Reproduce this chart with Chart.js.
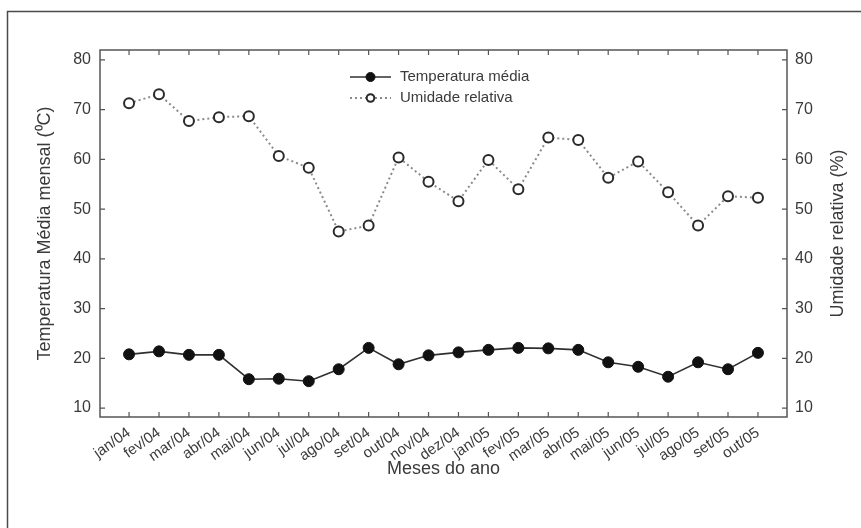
<!DOCTYPE html>
<html>
<head>
<meta charset="utf-8">
<script src="https://cdn.jsdelivr.net/npm/chart.js@4"></script>
<style>
  html, body { margin: 0; padding: 0; background: #ffffff; }
  #wrap { position: relative; width: 861px; height: 528px; }
  canvas { display: block; }
</style>
</head>
<body>
<div id="wrap"><canvas id="c" width="861" height="528"></canvas></div>
<script>
const months = ["jan/04","fev/04","mar/04","abr/04","mai/04","jun/04","jul/04","ago/04","set/04","out/04","nov/04","dez/04",
                "jan/05","fev/05","mar/05","abr/05","mai/05","jun/05","jul/05","ago/05","set/05","out/05"];
const temperatura = [20.8,21.4,20.7,20.7,15.8,15.9,15.4,17.8,22.1,18.8,20.6,21.2,21.7,22.1,22.0,21.7,19.2,18.3,16.3,19.2,17.8,21.1];
const umidade = [71.3,73.1,67.7,68.5,68.7,60.7,58.3,45.5,46.7,60.4,55.5,51.6,59.9,54.0,64.4,63.9,56.3,59.6,53.4,46.7,52.6,52.3];
const yTicks = [10,20,30,40,50,60,70,80];
const seriesNames = ["Temperatura média","Umidade relativa"];
const axisTitles = { left: "Temperatura Média mensal (\u2070C)", right: "Umidade relativa (%)", bottom: "Meses do ano" };

const FONT = "'Liberation Sans', Arial, sans-serif";
const TXT = "#3a3a3a";
const AX = "#555555";

const decor = {
  id: "decor",
  beforeDraw(chart) {
    const ctx = chart.ctx;
    ctx.save();
    ctx.strokeStyle = "#4a4a4a";
    ctx.lineWidth = 1.5;
    ctx.beginPath();
    ctx.moveTo(7.5, 528);
    ctx.lineTo(7.5, 11.5);
    ctx.lineTo(861, 11.5);
    ctx.stroke();
    ctx.restore();
  },
  afterDraw(chart) {
    const ctx = chart.ctx;
    const a = chart.chartArea;
    const sx = chart.scales.x, yl = chart.scales.y, yr = chart.scales.y2;
    ctx.save();
    ctx.strokeStyle = AX;
    ctx.lineWidth = 1.5;
    ctx.strokeRect(a.left, a.top, a.right - a.left, a.bottom - a.top);
    ctx.lineWidth = 1.2;
    ctx.beginPath();
    const L = 5;
    yl.ticks.forEach((t) => {
      const p = yl.getPixelForValue(t.value);
      ctx.moveTo(a.left, p); ctx.lineTo(a.left + L, p);
    });
    yr.ticks.forEach((t) => {
      const p = yr.getPixelForValue(t.value);
      ctx.moveTo(a.right, p); ctx.lineTo(a.right - L, p);
    });
    sx.ticks.forEach((t) => {
      const p = sx.getPixelForValue(t.value);
      ctx.moveTo(p, a.bottom); ctx.lineTo(p, a.bottom - L);
      ctx.moveTo(p, a.top); ctx.lineTo(p, a.top + L);
    });
    ctx.stroke();

    // right axis title, reading bottom-to-top like the left one
    ctx.save();
    ctx.translate(838, (a.top + a.bottom) / 2);
    ctx.rotate(-Math.PI / 2);
    ctx.fillStyle = TXT;
    ctx.font = "18px " + FONT;
    ctx.textAlign = "center";
    ctx.textBaseline = "middle";
    ctx.fillText(axisTitles.right, 0, 0);
    ctx.restore();

    // legend
    const ds = chart.data.datasets;
    const lx0 = 350, lx1 = 391, tx = 400;
    const rows = [77, 98];
    ds.forEach((d, i) => {
      const y = rows[i];
      ctx.save();
      ctx.strokeStyle = d.borderColor;
      ctx.lineWidth = d.borderWidth;
      ctx.setLineDash(d.borderDash || []);
      ctx.beginPath();
      ctx.moveTo(lx0, y); ctx.lineTo(lx1, y);
      ctx.stroke();
      ctx.setLineDash([]);
      ctx.beginPath();
      ctx.arc((lx0 + lx1) / 2, y, i === 0 ? 4.5 : 3.8, 0, Math.PI * 2);
      ctx.fillStyle = d.pointBackgroundColor;
      ctx.fill();
      ctx.lineWidth = d.pointBorderWidth;
      ctx.strokeStyle = d.pointBorderColor;
      ctx.stroke();
      ctx.restore();
      ctx.fillStyle = TXT;
      ctx.font = "15px " + FONT;
      ctx.textBaseline = "middle";
      ctx.textAlign = "left";
      ctx.fillText(d.label, tx, y);
    });
    ctx.restore();
  }
};

new Chart(document.getElementById("c"), {
  type: "line",
  data: {
    datasets: [
      {
        label: seriesNames[0],
        data: months.map((m, i) => ({ x: i, y: temperatura[i] })),
        yAxisID: "y",
        borderColor: "#303030",
        borderWidth: 1.6,
        pointRadius: 5.5,
        pointBackgroundColor: "#111111",
        pointBorderColor: "#111111",
        pointBorderWidth: 1,
        tension: 0
      },
      {
        label: seriesNames[1],
        data: months.map((m, i) => ({ x: i, y: umidade[i] })),
        yAxisID: "y2",
        borderColor: "#8a8a8a",
        borderWidth: 2,
        borderDash: [2, 3],
        pointRadius: 5,
        pointBackgroundColor: "#ffffff",
        pointBorderColor: "#2a2a2a",
        pointBorderWidth: 2,
        tension: 0
      }
    ]
  },
  options: {
    responsive: false,
    animation: false,
    layout: { padding: { top: 50, left: 0, right: 0, bottom: 0 } },
    plugins: { legend: { display: false }, tooltip: { enabled: false } },
    scales: {
      x: {
        type: "linear",
        min: -0.97,
        max: 21.97,
        afterBuildTicks: (s) => { s.ticks = months.map((m, i) => ({ value: i })); },
        afterFit: (s) => { s.height = 111; },
        grid: { display: false, drawTicks: false },
        border: { display: false },
        ticks: {
          autoSkip: false,
          minRotation: 35,
          maxRotation: 35,
          padding: 7,
          color: TXT,
          font: { family: FONT, size: 15 },
          callback: (v) => months[v]
        },
        title: { display: true, text: axisTitles.bottom, color: TXT, font: { family: FONT, size: 18 }, padding: { top: 0, bottom: 48 } }
      },
      y: {
        position: "left",
        min: 8.2,
        max: 82,
        afterBuildTicks: (s) => { s.ticks = yTicks.map((v) => ({ value: v })); },
        afterFit: (s) => { s.width = 100; },
        grid: { display: false, drawTicks: false },
        border: { display: false },
        ticks: { padding: 9, color: TXT, font: { family: FONT, size: 16 } },
        title: { display: true, text: axisTitles.left, color: TXT, font: { family: FONT, size: 18 }, padding: { top: 34, bottom: 0 } }
      },
      y2: {
        position: "right",
        min: 8.2,
        max: 82,
        afterBuildTicks: (s) => { s.ticks = yTicks.map((v) => ({ value: v })); },
        afterFit: (s) => { s.width = 74; },
        grid: { display: false, drawTicks: false },
        border: { display: false },
        ticks: { padding: 8, color: TXT, font: { family: FONT, size: 16 } },
        title: { display: false }
      }
    }
  },
  plugins: [decor]
});
</script>
</body>
</html>
